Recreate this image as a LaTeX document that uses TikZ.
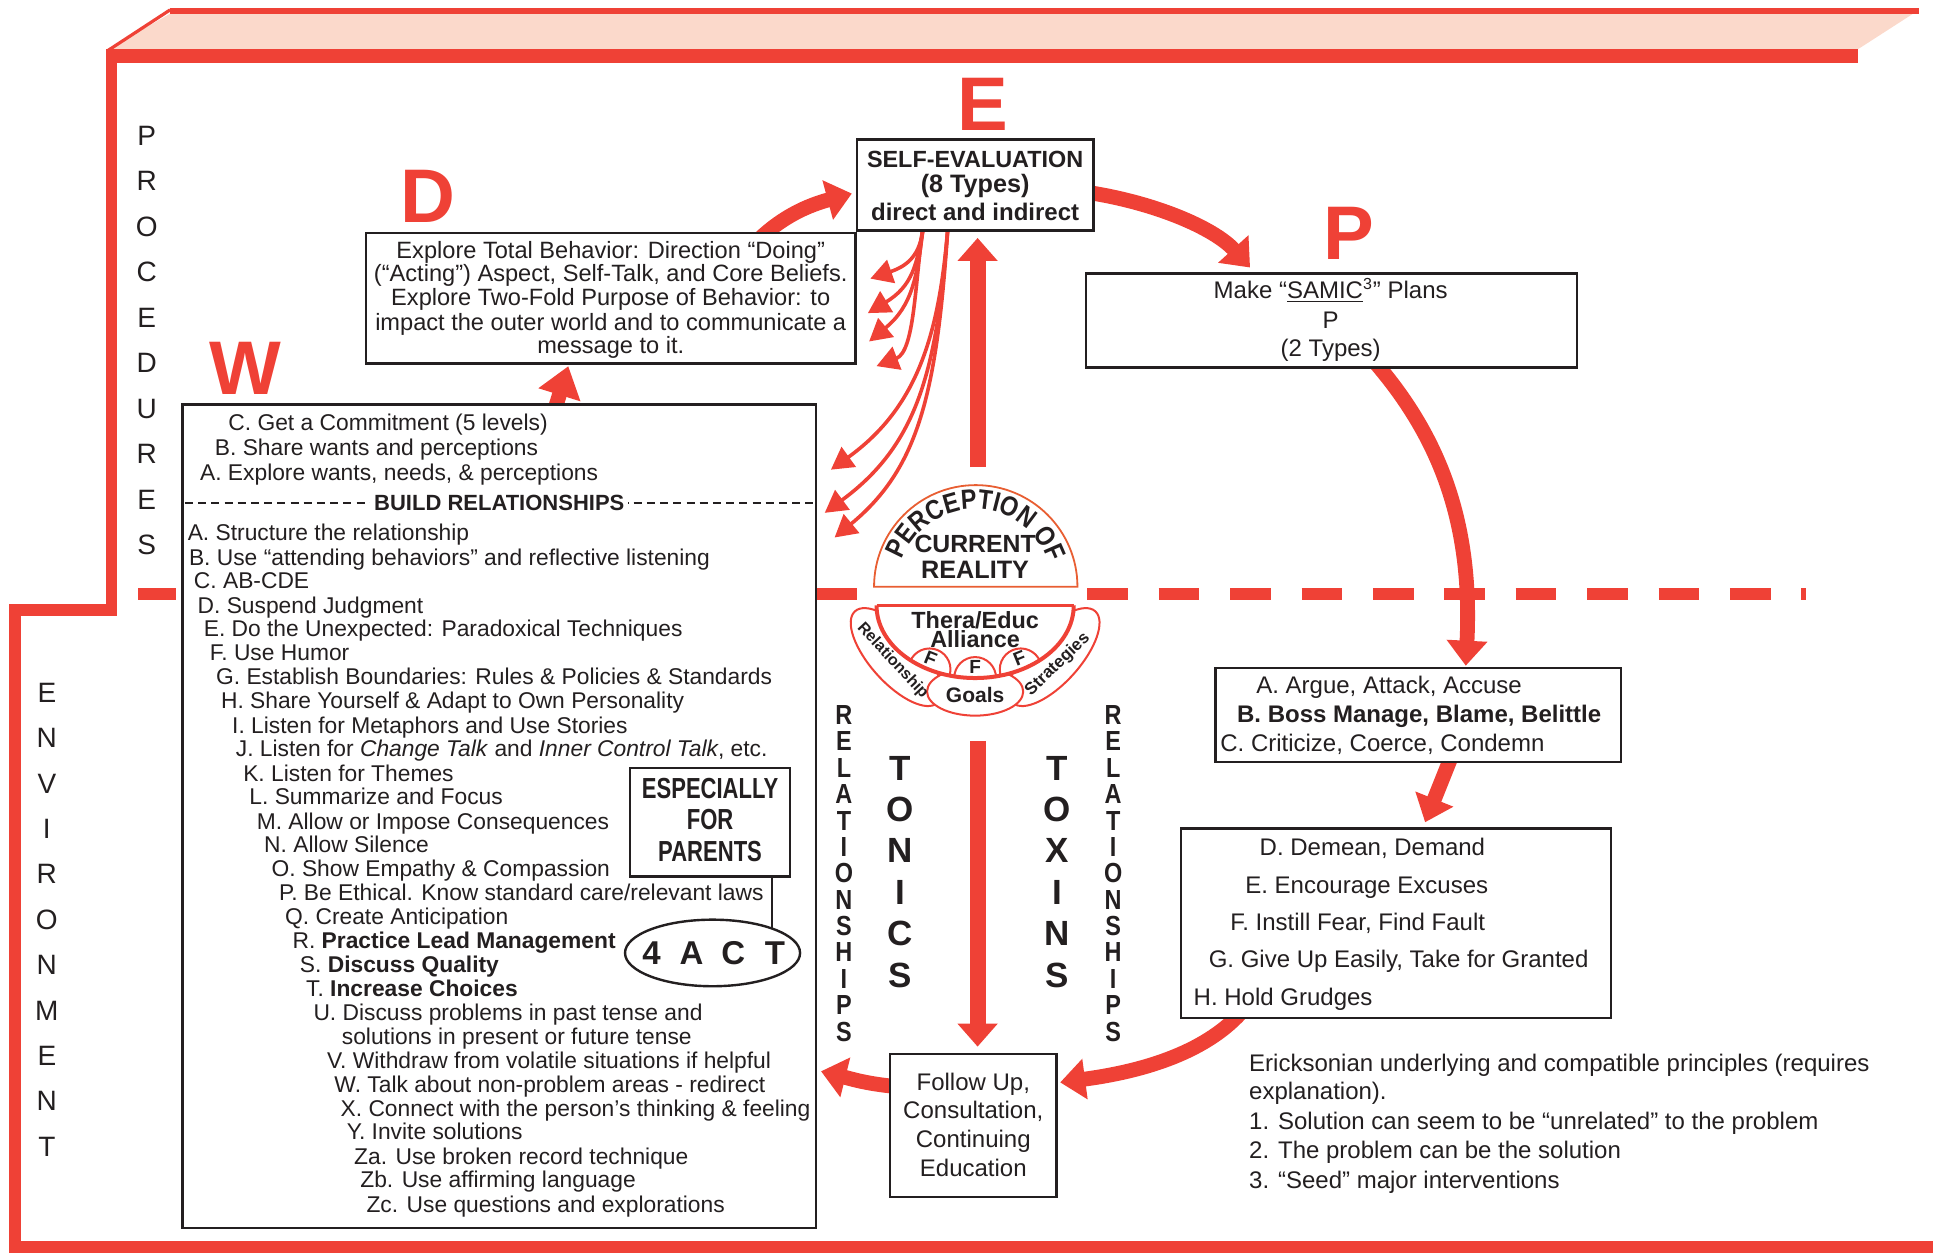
\documentclass[tikz,border=0pt]{standalone}
\usepackage{fontspec}
\setmainfont{Liberation Sans}
\newfontfamily\condf{Liberation Sans}[FakeStretch=0.85]
\newfontfamily\narrowf{Liberation Sans}[FakeStretch=0.76]
\usetikzlibrary{arrows.meta,decorations.text,shapes.geometric}
\definecolor{rd}{RGB}{239,65,54}
\definecolor{peach}{RGB}{251,217,203}
\definecolor{orng}{RGB}{232,94,50}
\definecolor{ink}{RGB}{35,31,32}
\newcommand\mkbox[5]{\node[bx, minimum width={(#4-#2)*0.6164pt}, minimum height={(#5-#3)*0.6164pt}] (#1) at ({(#2+#4)/2},{-(#3+#5)/2}) {};}
\newcommand\txtat[5]{\node[#1] (#2) at (#3,-#4) {#5};}
\begin{document}
\begin{tikzpicture}[x=0.6164pt,y=0.6164pt,
  bx/.style={draw=ink, line width=1.2pt, fill=white, inner sep=0pt},
  wt/.style={anchor=base west, inner sep=0pt, text=ink, font=\fontsize{11.4pt}{12pt}\selectfont},
  rt/.style={anchor=base west, inner sep=0pt, text=ink, font=\fontsize{12pt}{13pt}\selectfont},
  rtb/.style={anchor=base west, inner sep=0pt, text=ink, font=\fontsize{12pt}{13pt}\selectfont\bfseries},
  ct/.style={anchor=base, inner sep=0pt, text=ink, font=\fontsize{12pt}{13pt}\selectfont},
  dt/.style={anchor=base, inner sep=0pt, text=ink, font=\fontsize{11.8pt}{12pt}\selectfont},
  bigL/.style={inner sep=0pt, text=rd, font=\fontsize{38pt}{38pt}\selectfont\bfseries},
  vl/.style={inner sep=0pt, text=ink, font=\fontsize{14pt}{14pt}\selectfont},
  rl/.style={inner sep=0pt, text=ink, font=\fontsize{13.8pt}{14pt}\selectfont\condf\bfseries},
  tl/.style={inner sep=0pt, text=ink, font=\fontsize{17.5pt}{18pt}\selectfont\bfseries},
  fatarr/.style={draw=rd, line width=7.4pt, -{Triangle[width=19.7pt,length=12.5pt]}},
  thinarr/.style={draw=rd, line width=1.8pt, -{Triangle[width=12pt,length=11pt]}}]
\useasboundingbox (0,0) rectangle (1568,-1016);
% ---------- frame ----------
\fill[peach] (88,-40) -- (138,-11) -- (1552,-11) -- (1507,-40) -- cycle;
\fill[rd] (138,-6.5) rectangle (1557,-11.5);
\fill[rd] (86,-39.5) rectangle (1507,-51);
\draw[rd, line width=1.6pt] (87.5,-41) -- (138,-8);
\fill[rd] (86,-39.5) rectangle (95,-500);
\fill[rd] (7,-490) rectangle (95,-500);
\fill[rd] (7,-490) rectangle (17,-1016);
\fill[rd] (7,-1007) rectangle (1568,-1016);
% dashed divider
\draw[rd, line width=5.9pt] (112,-482) -- (143,-482);
\draw[rd, line width=5.9pt] (663,-482) -- (695,-482);
\draw[rd, line width=5.9pt, dash pattern=on 20.3pt off 15.4pt] (882,-482) -- (1465,-482);
% ---------- arrow end points ----------
\coordinate (dE1) at (608,-202); \coordinate (dE2) at (691,-157);
\coordinate (wD1) at (447,-342); \coordinate (wD2) at (461,-297);
\coordinate (eP1) at (875,-155); \coordinate (eP2) at (1014,-217);
\coordinate (pT1) at (1112,-290); \coordinate (pT2) at (1189,-540);
\coordinate (tt1) at (1178,-612); \coordinate (tt2) at (1156,-667);
\coordinate (tF1) at (1012,-815); \coordinate (tF2) at (860,-878);
\coordinate (fW1) at (735,-882); \coordinate (fW2) at (666,-869);
\coordinate (up1) at (793,-379); \coordinate (up2) at (793,-193);
\coordinate (dn1) at (793,-601); \coordinate (dn2) at (793,-849);
\coordinate (s1) at (749,-183); \coordinate (s2) at (769,-183);
\coordinate (h1) at (706,-226); \coordinate (h2) at (704,-254);
\coordinate (h3) at (705,-277); \coordinate (h4) at (711,-297);
\coordinate (h5) at (674,-381); \coordinate (h6) at (669,-416);
\coordinate (h7) at (677,-436);
% ---------- thick arrows ----------
\draw[fatarr] (dE1) .. controls (628,-180) and (650,-168) .. (dE2);
\draw[draw=rd, line width=7.4pt, -{Triangle[width=21pt,length=15pt]}] (wD1) -- (wD2);
\draw[fatarr] (eP1) .. controls (935,-163) and (985,-185) .. (eP2);
\draw[fatarr] (pT1) .. controls (1165,-350) and (1195,-420) .. (pT2);
\draw[fatarr] (tt1) -- (tt2);
\draw[fatarr] (tF1) .. controls (985,-850) and (935,-868) .. (tF2);
\draw[fatarr] (fW1) .. controls (705,-880) and (690,-875) .. (fW2);
\draw[draw=rd, line width=8pt, -{Triangle[width=19.4pt,length=11.5pt]}] (up1) -- (up2);
\draw[draw=rd, line width=8pt, -{Triangle[width=19.4pt,length=11.5pt]}] (dn1) -- (dn2);
% ---------- thin arrows ----------
\draw[thinarr] (s1) .. controls (747,-208) and (735,-216) .. (h1);
\draw[thinarr] (s1) .. controls (744,-215) and (740,-232) .. (h2);
\draw[thinarr] (s1) .. controls (744,-225) and (740,-248) .. (h3);
\draw[thinarr] (s1) .. controls (742,-230) and (742,-285) .. (h4);
\draw[thinarr] (s2) .. controls (762,-270) and (745,-330) .. (h5);
\draw[thinarr] (s2) .. controls (760,-300) and (745,-360) .. (h6);
\draw[thinarr] (s2) .. controls (760,-320) and (745,-380) .. (h7);
% ---------- boxes ----------
\mkbox{Wbox}{148}{328}{662}{996}
\mkbox{Dbox}{297}{189}{694}{295}
\mkbox{Ebox}{695}{113}{887}{187}
\mkbox{Pbox}{881}{222}{1279}{298}
\mkbox{Tone}{986}{542}{1315}{618}
\mkbox{Ttwo}{958}{672}{1307}{826}
\mkbox{Fol}{722}{855}{857}{971}
\mkbox{espe}{511}{623}{641}{711}
\node[draw=ink, line width=1.2pt, fill=white, ellipse, inner sep=0pt, minimum width={142*0.6164pt}, minimum height={54*0.6164pt}] (act) at (578,-773) {};
\coordinate (ec1) at (626,-711); \coordinate (ec2) at (626,-753);
\draw[ink, line width=1.2pt] (ec1) -- (ec2);
% ---------- big letters ----------
\node[bigL] (letE) at (797,-84.5) {E};
\node[bigL] (letD) at (347,-159) {D};
\node[bigL] (letW) at (199,-298.5) {W};
\node[bigL] (letP) at (1094.5,-189) {P};
% ---------- vertical words ----------
\foreach \c [count=\i from 0] in {P,R,O,C,E,D,U,R,E,S}
  \node[vl] (proc\i) at (119,{-(110+36.9*\i)}) {\c};
\foreach \c [count=\i from 0] in {E,N,V,I,R,O,N,M,E,N,T}
  \node[vl] (env\i) at (38,{-(562+36.8*\i)}) {\c};
\foreach \c [count=\i from 0] in {R,E,L,A,T,I,O,N,S,H,I,P,S}
  {\node[rl] (rla\i) at (684.6,{-(580+21.4*\i)}) {\c};
   \node[rl] (rlb\i) at (903,{-(580+21.4*\i)}) {\c};}
\foreach \c [count=\i from 0] in {T,O,N,I,C,S}
  \node[tl] (ton\i) at (730,{-(623+33.6*\i)}) {\c};
\foreach \c [count=\i from 0] in {T,O,X,I,N,S}
  \node[tl] (tox\i) at (857.5,{-(623+33.6*\i)}) {\c};
% ---------- E box ----------
\node[anchor=base, inner sep=0pt, text=ink, font=\fontsize{11.7pt}{12pt}\selectfont\bfseries] (e1) at (791,-135.5) {SELF-EVALUATION};
\node[anchor=base, inner sep=0pt, text=ink, font=\fontsize{12.6pt}{13pt}\selectfont\bfseries] (e2) at (791,-156.5) {(8 Types)};
\node[anchor=base, inner sep=0pt, text=ink, font=\fontsize{12pt}{12pt}\selectfont\bfseries] (e3) at (791,-179) {direct and indirect};
% ---------- D box ----------
\txtat{dt}{d1}{495.4}{209.7}{Explore Total Behavior: Direction “Doing”}
\txtat{dt}{d2}{495.4}{228.6}{(“Acting”) Aspect, Self-Talk, and Core Beliefs.}
\txtat{dt}{d3}{495.4}{248.1}{Explore Two-Fold Purpose of Behavior: to}
\txtat{dt}{d4}{495.4}{267.9}{impact the outer world and to communicate a}
\txtat{dt}{d5}{495.4}{286.8}{message to it.}
% ---------- P box ----------
\txtat{ct}{p1}{1079.4}{242}{Make “\underline{SAMIC}\textsuperscript{3}” Plans}
\txtat{ct}{p2}{1079.4}{266.5}{P}
\txtat{ct}{p3}{1079.4}{289.5}{(2 Types)}
% ---------- toxins boxes ----------
\txtat{rt}{ta}{1018.8}{562.6}{A. Argue, Attack, Accuse}
\txtat{rtb}{tb}{1003.2}{586.2}{B. Boss Manage, Blame, Belittle}
\txtat{rt}{tc}{989.6}{609.4}{C. Criticize, Coerce, Condemn}
\txtat{rt}{td}{1021.5}{693.8}{D. Demean, Demand}
\txtat{rt}{te}{1009.9}{724.9}{E. Encourage Excuses}
\txtat{rt}{tf}{997.7}{754.6}{F. Instill Fear, Find Fault}
\txtat{rt}{tg}{980.2}{784.4}{G. Give Up Easily, Take for Granted}
\txtat{rt}{th}{968}{815.5}{H. Hold Grudges}
% ---------- follow up ----------
\txtat{ct}{f1}{789.5}{884.4}{Follow Up,}
\txtat{ct}{f2}{789.5}{907.4}{Consultation,}
\txtat{ct}{f3}{789.5}{931.2}{Continuing}
\txtat{ct}{f4}{789.5}{954.7}{Education}
% ---------- Ericksonian ----------
\txtat{rt}{k1}{1013}{869}{Ericksonian underlying and compatible principles (requires}
\txtat{rt}{k2}{1013}{892}{explanation).}
\txtat{rt}{k3}{1013}{916}{1. Solution can seem to be “unrelated” to the problem}
\txtat{rt}{k4}{1013}{940}{2. The problem can be the solution}
\txtat{rt}{k5}{1013}{964}{3. “Seed” major interventions}
% ---------- W box ----------
\txtat{wt}{w1}{185}{349.6}{C. Get a Commitment (5 levels)}
\txtat{wt}{w2}{174}{369.6}{B. Share wants and perceptions}
\txtat{wt}{w3}{162}{389.6}{A. Explore wants, needs, \& perceptions}
\draw[ink, line width=0.9pt, dash pattern=on 4pt off 2.6pt] (150,-408) -- (660,-408);
\node[anchor=base, fill=white, inner xsep=2pt, inner ysep=1pt, text=ink, font=\fontsize{11pt}{11pt}\selectfont\bfseries] (build) at (405,-413.7) {BUILD RELATIONSHIPS};
\txtat{wt}{w4}{152}{438.6}{A. Structure the relationship}
\txtat{wt}{w5}{153}{458.6}{B. Use “attending behaviors” and reflective listening}
\txtat{wt}{w6}{157}{477.6}{C. AB-CDE}
\txtat{wt}{w7}{160}{497.6}{D. Suspend Judgment}
\txtat{wt}{w8}{165}{516.6}{E. Do the Unexpected: Paradoxical Techniques}
\txtat{wt}{w9}{170}{535.6}{F. Use Humor}
\txtat{wt}{w10}{175}{555.6}{G. Establish Boundaries: Rules \& Policies \& Standards}
\txtat{wt}{w11}{179}{574.6}{H. Share Yourself \& Adapt to Own Personality}
\txtat{wt}{w12}{188}{594.6}{I. Listen for Metaphors and Use Stories}
\txtat{wt}{w13}{191}{613.6}{J. Listen for \textit{Change Talk} and \textit{Inner Control Talk}, etc.}
\txtat{wt}{w14}{197}{633.6}{K. Listen for Themes}
\txtat{wt}{w15}{202}{652.6}{L. Summarize and Focus}
\txtat{wt}{w16}{208}{672.6}{M. Allow or Impose Consequences}
\txtat{wt}{w17}{214}{691.6}{N. Allow Silence}
\txtat{wt}{w18}{220}{710.6}{O. Show Empathy \& Compassion}
\txtat{wt}{w19}{226}{730.6}{P. Be Ethical. Know standard care/relevant laws}
\txtat{wt}{w20}{231}{749.6}{Q. Create Anticipation}
\txtat{wt}{w21}{237}{769.6}{R. \textbf{Practice Lead Management}}
\txtat{wt}{w22}{243}{788.6}{S. \textbf{Discuss Quality}}
\txtat{wt}{w23}{248}{808.6}{T. \textbf{Increase Choices}}
\txtat{wt}{w24}{254}{827.6}{U. Discuss problems in past tense and}
\txtat{wt}{w25}{277}{847.6}{solutions in present or future tense}
\txtat{wt}{w26}{265}{866.6}{V. Withdraw from volatile situations if helpful}
\txtat{wt}{w27}{271}{886.6}{W. Talk about non-problem areas - redirect}
\txtat{wt}{w28}{276}{905.6}{X. Connect with the person’s thinking \& feeling}
\txtat{wt}{w29}{281}{924.6}{Y. Invite solutions}
\txtat{wt}{w30}{287}{944.6}{Za. Use broken record technique}
\txtat{wt}{w31}{292}{963.6}{Zb. Use affirming language}
\txtat{wt}{w32}{297}{983.6}{Zc. Use questions and explorations}
% ---------- especially for parents ----------
\node[anchor=base, inner sep=0pt, text=ink, font=\fontsize{14.5pt}{14pt}\selectfont\narrowf\bfseries] (ep1) at (576,-648) {ESPECIALLY};
\node[anchor=base, inner sep=0pt, text=ink, font=\fontsize{14.5pt}{14pt}\selectfont\narrowf\bfseries] (ep2) at (576,-673) {FOR};
\node[anchor=base, inner sep=0pt, text=ink, font=\fontsize{14.5pt}{14pt}\selectfont\narrowf\bfseries] (ep3) at (576,-699) {PARENTS};
\foreach \c/\xx [count=\i] in {4/528.6,A/561,C/594.8,T/628.6}
  \node[inner sep=0pt, text=ink, font=\fontsize{16.5pt}{16pt}\selectfont\bfseries] (act\i) at (\xx,-772.8) {\c};
% ---------- perception of current reality ----------
\draw[orng, line width=0.9pt, fill=white] (709,-476) arc[start angle=180, end angle=0, radius=82.5] -- cycle;
\path[decorate, decoration={text along path, text align=center,
   text={|\fontsize{13.8pt}{13pt}\selectfont\condf\bfseries\color{ink}|PERCEPTION OF}}]
   (791,-476) ++(175:63) arc[start angle=175, end angle=3, radius=63];
\node[anchor=base, inner sep=0pt, text=ink, font=\fontsize{12.4pt}{12pt}\selectfont\bfseries] (cur) at (791,-448) {CURRENT};
\node[anchor=base, inner sep=0pt, text=ink, font=\fontsize{12.6pt}{12pt}\selectfont\bfseries] (rea) at (791,-469.5) {REALITY};
% ---------- alliance ----------
\draw[rd, line width=1pt, fill=white, rotate around={-48:(727,-533)}] (727,-533) ellipse[x radius=50, y radius=21];
\draw[rd, line width=1pt, fill=white, rotate around={48:(855,-533)}] (855,-533) ellipse[x radius=50, y radius=21];
\draw[rd, line width=1pt, fill=white] (791,-561) ellipse[x radius=39, y radius=19.5];
\fill[white] (711,-491) arc[start angle=180, end angle=360, x radius=80, y radius=59] -- cycle;
\begin{scope}
\clip (711,-491) arc[start angle=180, end angle=360, x radius=80, y radius=59] -- cycle;
\draw[rd, line width=1pt] (754,-543) circle[radius=17];
\draw[rd, line width=1pt] (791,-550) circle[radius=17];
\draw[rd, line width=1pt] (828,-543) circle[radius=17];
\end{scope}
\draw[rd, line width=2pt] (711,-491) arc[start angle=180, end angle=360, x radius=80, y radius=59];
\draw[rd, line width=1.2pt] (711,-491) -- (871,-491);
\node[anchor=base, inner sep=0pt, text=ink, font=\fontsize{11.7pt}{11pt}\selectfont\bfseries] (th1) at (791,-509.5) {Thera/Educ};
\node[anchor=base, inner sep=0pt, text=ink, font=\fontsize{11.7pt}{11pt}\selectfont\bfseries] (th2) at (791,-525.5) {Alliance};
\node[inner sep=0pt, text=ink, rotate=-22, font=\fontsize{9.5pt}{9pt}\selectfont\bfseries] (F1) at (755,-534) {F};
\node[inner sep=0pt, text=ink, font=\fontsize{9.5pt}{9pt}\selectfont\bfseries] (F2) at (791,-541) {F};
\node[inner sep=0pt, text=ink, rotate=22, font=\fontsize{9.5pt}{9pt}\selectfont\bfseries] (F3) at (827,-534) {F};
\node[inner sep=0pt, text=ink, font=\fontsize{10.5pt}{10pt}\selectfont\bfseries] (goals) at (791,-564) {Goals};
\node[inner sep=0pt, text=ink, rotate=-47, font=\fontsize{8pt}{8pt}\selectfont\bfseries] (relat) at (724,-536) {Relationship};
\node[inner sep=0pt, text=ink, rotate=44, font=\fontsize{8.5pt}{8pt}\selectfont\bfseries] (strat) at (858,-539) {Strategies};
\end{tikzpicture}
\end{document}
